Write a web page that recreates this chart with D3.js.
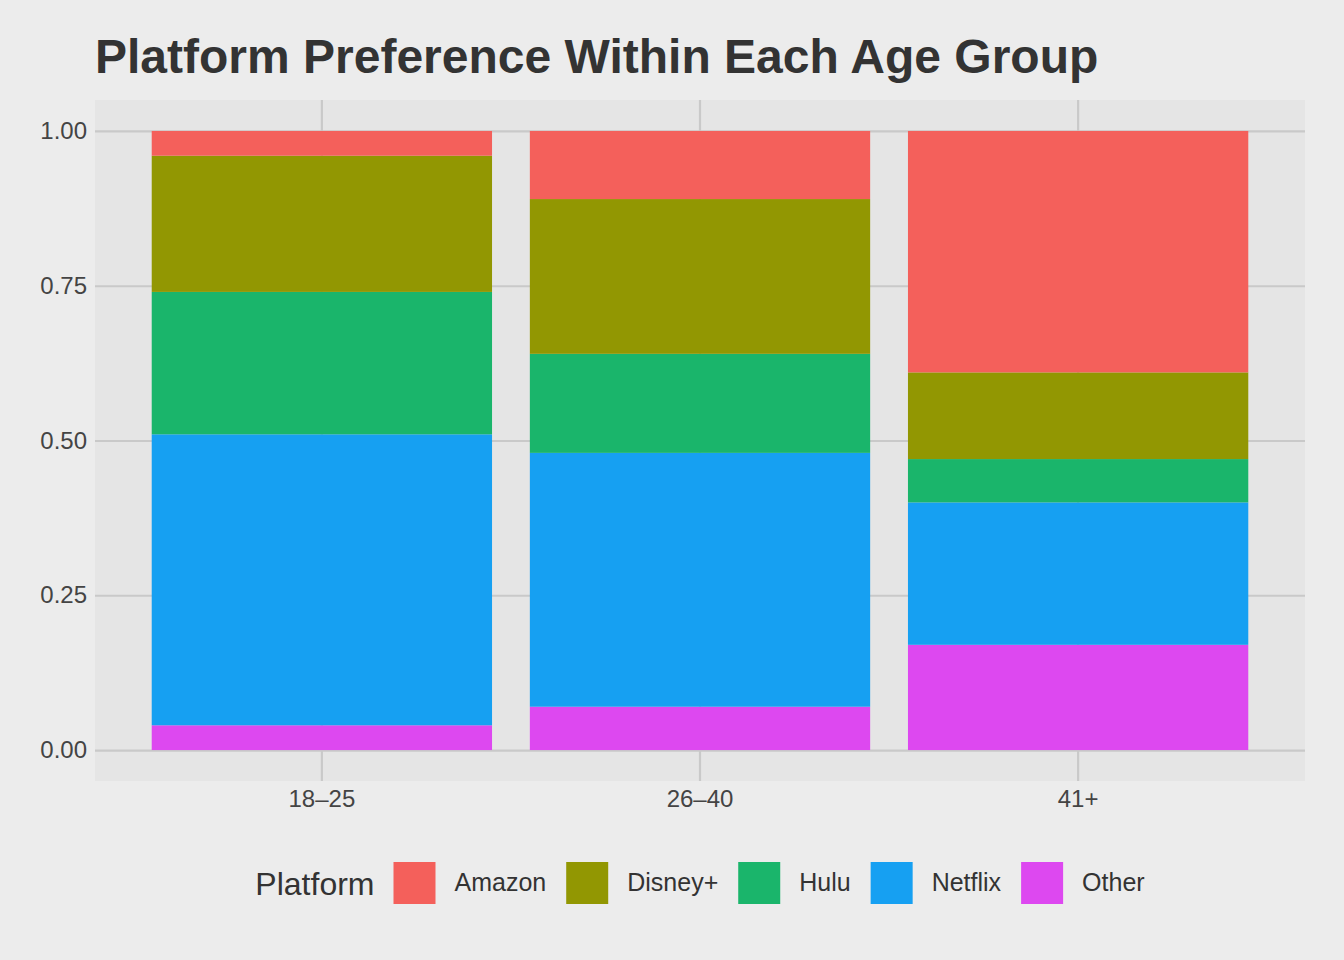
<!DOCTYPE html>
<html>
<head>
<meta charset="utf-8">
<script src="https://cdn.jsdelivr.net/npm/d3@7"></script>
<style>
  body { margin: 0; background: #ECECEC; }
  svg { display: block; font-family: "Liberation Sans", Arial, sans-serif; }
</style>
</head>
<body>
<svg id="chart"></svg>
<script>
// data
const ageGroups = ['18–25', '26–40', '41+'];
const platforms = ['Amazon', 'Disney+', 'Hulu', 'Netflix', 'Other'];
const amazon = [0.04, 0.11, 0.39];
const disney = [0.22, 0.25, 0.14];
const hulu = [0.23, 0.16, 0.07];
const netflix = [0.47, 0.41, 0.23];
const other = [0.04, 0.07, 0.17];
const yTicks = [0, 0.25, 0.5, 0.75, 1];
const colors = ['#F4605B', '#929702', '#1AB56B', '#16A0F2', '#DD48F0'];

const w = 1344, h = 960;
const panel = {left: 95, right: 1305, top: 100, bottom: 781};

const svg = d3.select('#chart').attr('width', w).attr('height', h);
svg.append('rect').attr('width', w).attr('height', h).attr('fill', '#ECECEC');

// table for the stack, Other at the bottom
const rows = ageGroups.map((g, i) => ({
  group: g, Amazon: amazon[i], 'Disney+': disney[i], Hulu: hulu[i], Netflix: netflix[i], Other: other[i]
}));
const stackOrder = ['Other', 'Netflix', 'Hulu', 'Disney+', 'Amazon'];
const series = d3.stack().keys(stackOrder)(rows);

const color = d3.scaleOrdinal().domain(platforms).range(colors);

// discrete scale with ggplot-like expansion (0.6 units each side)
const step = (panel.right - panel.left) / (ageGroups.length + 0.2);
const xScale = d3.scaleBand()
  .domain(ageGroups)
  .range([panel.left + 0.1 * step, panel.right - 0.1 * step])
  .paddingInner(0.1)
  .paddingOuter(0.05);

const yScale = d3.scaleLinear()
  .domain([-0.05, 1.05])
  .range([panel.bottom, panel.top]);

// panel
svg.append('rect')
  .attr('x', panel.left).attr('y', panel.top)
  .attr('width', panel.right - panel.left).attr('height', panel.bottom - panel.top)
  .attr('fill', '#E5E5E5');

// grid + axis labels
const yAxis = d3.axisLeft(yScale)
  .tickValues(yTicks)
  .tickSize(-(panel.right - panel.left))
  .tickFormat(d3.format('.2f'))
  .tickPadding(8);
const gy = svg.append('g').attr('transform', `translate(${panel.left},0)`).call(yAxis);
gy.select('.domain').remove();
gy.selectAll('line').attr('stroke', '#C9C9C9').attr('stroke-width', 2.2);
gy.selectAll('text').attr('font-size', 24).attr('fill', '#444444');

const xAxis = d3.axisBottom(xScale)
  .tickSize(-(panel.bottom - panel.top))
  .tickPadding(9);
const gx = svg.append('g').attr('transform', `translate(0,${panel.bottom})`).call(xAxis);
gx.select('.domain').remove();
gx.selectAll('line').attr('stroke', '#C9C9C9').attr('stroke-width', 2.2);
gx.selectAll('text').attr('font-size', 24).attr('fill', '#444444');

// bars
svg.append('g')
  .selectAll('g')
  .data(series)
  .join('g')
    .attr('fill', d => color(d.key))
  .selectAll('rect')
  .data(d => d)
  .join('rect')
    .attr('x', d => xScale(d.data.group))
    .attr('y', d => yScale(d[1]))
    .attr('width', xScale.bandwidth())
    .attr('height', d => yScale(d[0]) - yScale(d[1]));

// title
svg.append('text')
  .attr('x', 95).attr('y', 73)
  .attr('font-size', 48).attr('font-weight', 'bold').attr('fill', '#333333')
  .text('Platform Preference Within Each Age Group');

// legend
const legend = svg.append('g');
const lt = legend.append('text')
  .attr('y', 895).attr('font-size', 32).attr('fill', '#333333')
  .text('Platform');
let x = lt.node().getComputedTextLength() + 19;
platforms.forEach(p => {
  const g = legend.append('g').attr('transform', `translate(${x},0)`);
  g.append('rect').attr('x', 0).attr('y', 862).attr('width', 42).attr('height', 42).attr('fill', color(p));
  const t = g.append('text').attr('x', 61).attr('y', 891).attr('font-size', 25).attr('fill', '#333333').text(p);
  x += 61 + t.node().getComputedTextLength() + 20;
});
const total = x - 20;
legend.attr('transform', `translate(${(panel.left + panel.right) / 2 - total / 2},0)`);
</script>
</body>
</html>
